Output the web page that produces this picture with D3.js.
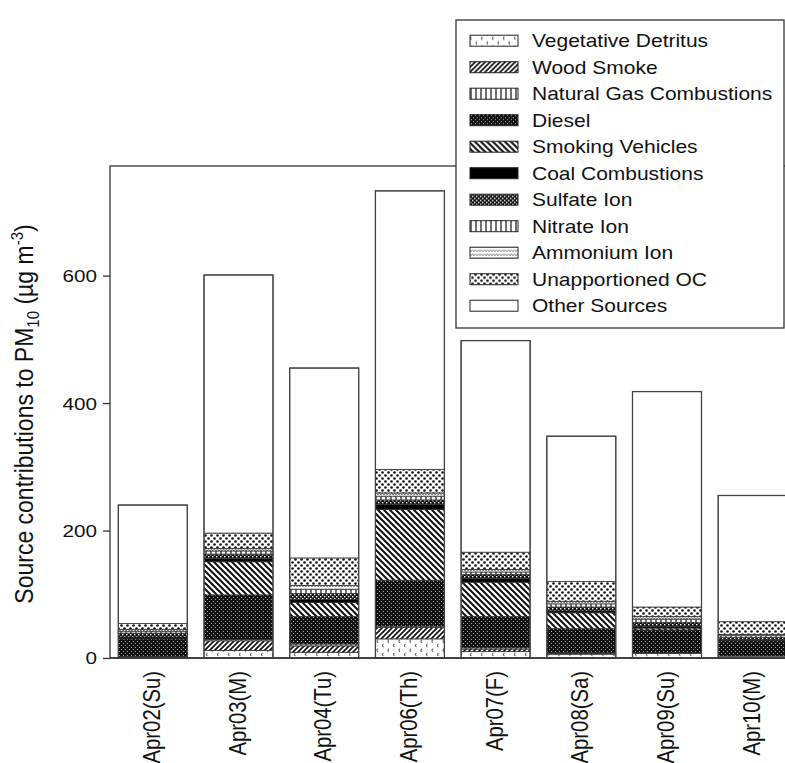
<!DOCTYPE html>
<html><head><meta charset="utf-8">
<script src="https://cdn.jsdelivr.net/npm/d3@7"></script>
<style>
body{margin:0;background:#fff;}
text{font-family:"Liberation Sans",Arial,Helvetica,sans-serif;fill:#111;}
</style>
</head><body>
<svg id="c" width="785" height="763"></svg>
<script>
// ---------- data ----------
const categories = ["Apr02(Su)","Apr03(M)","Apr04(Tu)","Apr06(Th)","Apr07(F)","Apr08(Sa)","Apr09(Su)","Apr10(M)"];
const seriesNames = ["Vegetative Detritus","Wood Smoke","Natural Gas Combustions","Diesel","Smoking Vehicles","Coal Combustions","Sulfate Ion","Nitrate Ion","Ammonium Ion","Unapportioned OC","Other Sources"];
const vegetativeDetritus = [2, 12, 9, 30, 10, 6, 7, 3];
const woodSmoke          = [0, 15, 10, 18, 4, 1, 0, 0];
const naturalGas         = [0, 2, 3, 2, 2, 1, 1, 0];
const diesel             = [28, 70, 43, 72, 49, 38, 36, 24];
const smokingVehicles    = [0, 52, 22, 111, 54, 25, 3, 0];
const coal               = [3, 5, 5, 8, 6, 3, 3, 2];
const sulfateIon         = [6, 7, 9, 7, 6, 6, 6, 3];
const nitrateIon         = [3, 5, 7, 6, 4, 5, 5, 3];
const ammoniumIon        = [3, 4, 6, 5, 4, 4, 4, 2];
const unapportionedOC    = [9, 24, 43, 37, 27, 31, 15, 20];
const otherSources       = [186, 405, 298, 437, 332, 228, 338, 198];
const yTicks = [0, 200, 400, 600];
const yMax = 772;

const seriesValues = [vegetativeDetritus, woodSmoke, naturalGas, diesel, smokingVehicles, coal,
                      sulfateIon, nitrateIon, ammoniumIon, unapportionedOC, otherSources];

const table = categories.map((c, i) => {
  const row = {cat: c};
  seriesNames.forEach((s, k) => row[s] = seriesValues[k][i]);
  return row;
});

// ---------- svg ----------
const svg = d3.select("#c");
const defs = svg.append("defs");
function pat(id, w, h, bg) {
  const p = defs.append("pattern").attr("id", id).attr("patternUnits", "userSpaceOnUse")
    .attr("width", w).attr("height", h);
  p.append("rect").attr("width", w).attr("height", h).attr("fill", bg);
  return p;
}
// 0 vegetative detritus
let p = pat("p0", 11, 9, "#fff");
p.append("path").attr("d", "M4,0.8 q-2.2,1.4 0,3").attr("stroke", "#666").attr("stroke-width", 1.1).attr("fill", "none");
p.append("path").attr("d", "M9.5,5 q-2.2,1.4 0,3").attr("stroke", "#666").attr("stroke-width", 1.1).attr("fill", "none");
// 1 wood smoke ///
p = pat("p1", 5, 5, "#fff");
p.append("path").attr("d", "M0,5 L5,0 M-1,1 L1,-1 M4,6 L6,4").attr("stroke", "#111").attr("stroke-width", 1.7);
// 2 natural gas vertical lines
p = pat("p2", 5, 5, "#fff");
p.append("path").attr("d", "M1,0 V5").attr("stroke", "#111").attr("stroke-width", 1.2);
// 3 diesel dark dotted
p = pat("p3", 4, 4, "#111");
p.append("rect").attr("x", 1).attr("y", 1).attr("width", 1).attr("height", 1).attr("fill", "#aaa");
p.append("rect").attr("x", 3).attr("y", 3).attr("width", 1).attr("height", 1).attr("fill", "#aaa");
// 4 smoking vehicles \\\
p = pat("p4", 6, 6, "#fff");
p.append("path").attr("d", "M0,0 L6,6 M-1,5 L1,7 M5,-1 L7,1").attr("stroke", "#111").attr("stroke-width", 2);
// 5 coal solid black
p = pat("p5", 4, 4, "#000");
// 6 sulfate checker
p = pat("p6", 4, 4, "#111");
p.append("rect").attr("x", 0).attr("y", 0).attr("width", 1.4).attr("height", 1.4).attr("fill", "#fff");
p.append("rect").attr("x", 2).attr("y", 2).attr("width", 1.4).attr("height", 1.4).attr("fill", "#fff");
// 7 nitrate vertical lines
p = pat("p7", 5, 5, "#fff");
p.append("path").attr("d", "M1,0 V5").attr("stroke", "#111").attr("stroke-width", 1.2);
// 8 ammonium zigzag
p = pat("p8", 6, 4, "#fff");
p.append("path").attr("d", "M0,3 L1.5,1 L3,3 L4.5,1 L6,3").attr("stroke", "#888").attr("stroke-width", 1).attr("fill", "none");
// 9 unapportioned OC dots
p = pat("p9", 6, 6, "#fff");
p.append("circle").attr("cx", 1.5).attr("cy", 1.5).attr("r", 1.3).attr("fill", "#111");
p.append("circle").attr("cx", 4.5).attr("cy", 4.5).attr("r", 1.3).attr("fill", "#111");
// 10 other white
p = pat("p10", 4, 4, "#fff");

const fills = seriesNames.map((s, k) => `url(#p${k})`);

// ---------- scales ----------
const x = d3.scaleBand().domain(categories).range([110, 795.5]).paddingInner(0.195).paddingOuter(0.097);
const y = d3.scaleLinear().domain([0, yMax]).range([658, 166]);

// frame
svg.append("rect").attr("x", 110).attr("y", 166).attr("width", 700).attr("height", 492)
  .attr("fill", "none").attr("stroke", "#333").attr("stroke-width", 1.3);

// stacks
const stack = d3.stack().keys(seriesNames)(table);
const layers = svg.append("g").selectAll("g").data(stack).join("g")
  .attr("fill", (d, k) => fills[k]);
layers.selectAll("rect").data(d => d).join("rect")
  .attr("x", d => x(d.data.cat))
  .attr("width", x.bandwidth())
  .attr("y", d => y(d[1]))
  .attr("height", d => Math.max(0, y(d[0]) - y(d[1])))
  .attr("stroke", "#333").attr("stroke-width", 0.8);

// outlines of whole bars
svg.append("g").selectAll("rect").data(table).join("rect")
  .attr("x", d => x(d.cat)).attr("width", x.bandwidth())
  .attr("y", d => y(d3.sum(seriesNames, s => d[s])))
  .attr("height", d => y(0) - y(d3.sum(seriesNames, s => d[s])))
  .attr("fill", "none").attr("stroke", "#444").attr("stroke-width", 1.3);

// y axis
const yAxis = svg.append("g").attr("transform", "translate(110,0)")
  .call(d3.axisLeft(y).tickValues(yTicks).tickSize(7).tickPadding(6).tickFormat(d3.format("d")));
yAxis.select(".domain").remove();
yAxis.selectAll("line").attr("stroke", "#333").attr("stroke-width", 1.3);
yAxis.selectAll(".tick text").attr("font-size", 17).attr("fill", "#111")
  .attr("x", 0).attr("dy", "0.35em")
  .attr("text-anchor", "end")
  .attr("transform", "translate(-13,0) scale(1.22,1)");

// bottom axis line
svg.append("line").attr("x1", 110).attr("x2", 800).attr("y1", 658).attr("y2", 658)
  .attr("stroke", "#333").attr("stroke-width", 1.3);

// x labels
svg.append("g").selectAll("text").data(categories).join("text")
  .attr("transform", d => `translate(${x(d) + x.bandwidth() / 2 + 7},671) scale(1.18,1) rotate(-90)`)
  .attr("text-anchor", "end").attr("font-size", 20.3)
  .text(d => d);

// y title
const yt = svg.append("text")
  .attr("transform", "translate(33,414) scale(1.12,1) rotate(-90)")
  .attr("text-anchor", "middle").attr("font-size", 23);
yt.append("tspan").text("Source contributions to PM");
yt.append("tspan").attr("font-size", 15).attr("dy", 5).text("10");
yt.append("tspan").attr("dy", -5).text(" (µg m");
yt.append("tspan").attr("font-size", 15).attr("dy", -9).text("-3");
yt.append("tspan").attr("dy", 9).text(")");

// legend
const lg = svg.append("g");
lg.append("rect").attr("x", 456).attr("y", 20).attr("width", 328).attr("height", 308)
  .attr("fill", "#fff").attr("stroke", "#333").attr("stroke-width", 1.3);
const rows = lg.selectAll("g.row").data(seriesNames).join("g").attr("class", "row")
  .attr("transform", (d, i) => `translate(0,${40.7 + i * 26.5})`);
rows.append("rect").attr("x", 470).attr("y", -5.5).attr("width", 48).attr("height", 11)
  .attr("fill", (d, k) => fills[k]).attr("stroke", "#222").attr("stroke-width", 1);
rows.append("text").attr("transform", "translate(532,0) scale(1.2,1)")
  .attr("dy", "0.36em").attr("font-size", 17.5).text(d => d);
</script>
</body></html>
